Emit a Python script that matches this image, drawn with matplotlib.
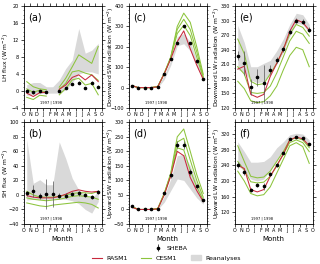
import numpy as np
import matplotlib
matplotlib.use("Agg")
import matplotlib.pyplot as plt
from matplotlib.lines import Line2D
from matplotlib.patches import Patch

nan = np.nan
month_labels = ['O', 'N', 'D', 'J', 'F', 'M', 'A', 'M', 'J', 'J', 'A', 'S', 'O']

# (a) LH flux
sheba_lh = [0.0, -0.3, 0.0, -0.2, nan, 0.0, 0.7, 1.6, 2.0, 0.7, 2.0, 1.0]
sheba_lh_err = [0.3, 0.3, 0.3, 0.3, nan, 0.3, 0.3, 0.3, 0.3, 0.3, 0.3, 0.3]
rasm_lh = [-0.5, -1.3, -0.4, -0.3, nan, 0.4, 1.4, 3.2, 3.8, 2.6, 3.8, 2.2]
cesm_lh = [[2.2, 1.0, 0.5, 0.3, nan, 0.9, 3.0, 5.7, 8.5, 7.5, 6.5, 10.5],
           [0.5, -0.3, 0.2, -0.3, nan, 0.4, 1.8, 4.5, 4.8, 4.2, 3.8, 2.5],
           [-1.5, -2.0, -1.0, -1.2, nan, -0.9, 0.6, 2.6, 3.0, 1.4, 1.8, -0.9]]
rean_lh_lo = [-1.0, -0.8, -0.6, -0.5, -0.5, -0.5, 0.3, 2.0, 4.0, 4.5, 4.5, 4.0]
rean_lh_hi = [1.5, 2.0, 2.0, 1.0, 1.0, 2.6, 5.3, 7.3, 14.7, 8.9, 9.6, 11.2]

# (b) SH flux
sheba_sh = [2, 5, -1, 1, 1, -1, -1, 1, 2, 0, -3, 4]
sheba_sh_err = [3, 8, 4, 21, 18, 3, 3, 3, 3, 3, 3, 3]
rasm_sh = [-1, -3, -4, -4, -4, -2, 1, 5, 7, 5, 4, 5]
cesm_sh = [[5, 0, -3, -3, -3, -2, 0, 2, 3, 3, 2, 5],
           [-4, -6, -7, -8, -7, -6, -4, -2, -1, -2, -3, -6],
           [-11, -13, -15, -16, -14, -13, -12, -11, -10, -11, -13, -18]]
rean_sh_lo = [-7, -6, -6, -6, -6, -6, -6, -8, -12, -20, -25, -9]
rean_sh_hi = [76, 16, 21, 14, 14, 73, 50, 23, 7, 0, -5, 5]

# (c) Downward SW
sheba_dsw = [10, 0, 0, 0, 5, 68, 140, 218, 300, 218, 128, 42]
sheba_dsw_err = [3, 8, 2, 2, 2, 5, 5, 6, 8, 6, 5, 4]
rasm_dsw = [10, 0, 0, 0, 4, 68, 140, 225, 278, 190, 110, 40]
cesm_dsw = [[10, 0, 0, 0, 5, 70, 150, 300, 365, 320, 200, 65],
            [10, 0, 0, 0, 5, 70, 148, 285, 335, 285, 175, 55],
            [10, 0, 0, 0, 5, 68, 145, 265, 305, 255, 150, 48]]
rean_dsw_lo = [5, 0, 0, 0, 0, 40, 110, 205, 215, 180, 105, 35]
rean_dsw_hi = [15, 3, 1, 1, 8, 60, 135, 250, 265, 225, 135, 48]

# (d) Upward SW
sheba_usw = [12, 0, 0, 0, 2, 55, 118, 222, 222, 130, 81, 32]
sheba_usw_err = [3, 2, 1, 1, 1, 5, 8, 12, 15, 10, 6, 4]
rasm_usw = [8, 0, 0, 0, 2, 50, 115, 200, 185, 110, 65, 27]
cesm_usw = [[10, 0, 0, 0, 3, 55, 125, 250, 277, 200, 120, 55],
            [10, 0, 0, 0, 3, 55, 122, 232, 245, 170, 100, 42],
            [10, 0, 0, 0, 3, 52, 118, 212, 205, 135, 78, 32]]
rean_usw_lo = [5, 0, 0, 0, 0, 25, 65, 105, 100, 70, 40, 18]
rean_usw_hi = [12, 2, 0, 0, 4, 45, 105, 185, 190, 150, 90, 38]

# (e) Downward LW
sheba_dlw = [228, 212, 163, 183, 171, 199, 219, 242, 277, 300, 298, 281]
sheba_dlw_err = [10, 25, 17, 18, 38, 10, 6, 6, 5, 5, 5, 5]
rasm_dlw = [200, 206, 148, 142, 148, 185, 212, 240, 278, 302, 296, 280]
cesm_dlw = [[262, 232, 175, 168, 170, 190, 212, 240, 272, 292, 286, 268],
            [205, 190, 152, 150, 152, 165, 192, 225, 258, 278, 272, 253],
            [175, 160, 135, 131, 133, 145, 165, 198, 228, 245, 240, 205]]
rean_dlw_lo = [200, 192, 178, 172, 175, 190, 210, 235, 268, 295, 292, 275]
rean_dlw_hi = [290, 255, 205, 205, 212, 218, 238, 262, 292, 315, 312, 292]

# (f) Upward LW
sheba_ulw = [240, 222, 177, 189, 186, 217, 241, 272, 308, 312, 309, 295]
sheba_ulw_err = [8, 6, 6, 5, 10, 5, 4, 4, 3, 3, 3, 3]
rasm_ulw = [240, 232, 178, 172, 178, 212, 240, 268, 305, 312, 308, 290]
cesm_ulw = [[290, 250, 212, 208, 210, 225, 250, 275, 305, 310, 305, 285],
            [250, 228, 198, 195, 197, 212, 238, 268, 298, 305, 298, 275],
            [225, 200, 168, 162, 165, 185, 220, 255, 290, 298, 288, 245]]
rean_ulw_lo = [240, 225, 205, 200, 205, 228, 252, 278, 305, 312, 308, 292]
rean_ulw_hi = [300, 275, 248, 248, 250, 262, 285, 300, 318, 322, 320, 305]

RED = '#c8283c'
GREEN = '#8cc43c'
GRAY = '#d9d9d9'

panels = [
    ('(a)', 'LH flux (W m$^{-2}$)', (-4, 20), np.arange(-4, 21, 4),
     sheba_lh, sheba_lh_err, rasm_lh, cesm_lh, rean_lh_lo, rean_lh_hi),
    ('(b)', 'SH flux (W m$^{-2}$)', (-40, 100), np.arange(-40, 101, 20),
     sheba_sh, sheba_sh_err, rasm_sh, cesm_sh, rean_sh_lo, rean_sh_hi),
    ('(c)', 'Downward SW radiation (W m$^{-2}$)', (-100, 400), np.arange(-100, 401, 100),
     sheba_dsw, sheba_dsw_err, rasm_dsw, cesm_dsw, rean_dsw_lo, rean_dsw_hi),
    ('(d)', 'Upward SW radiation (W m$^{-2}$)', (-50, 300), np.arange(-50, 301, 50),
     sheba_usw, sheba_usw_err, rasm_usw, cesm_usw, rean_usw_lo, rean_usw_hi),
    ('(e)', 'Downward LW radiation (W m$^{-2}$)', (120, 330), np.arange(120, 331, 30),
     sheba_dlw, sheba_dlw_err, rasm_dlw, cesm_dlw, rean_dlw_lo, rean_dlw_hi),
    ('(f)', 'Upward LW radiation (W m$^{-2}$)', (90, 350), np.arange(120, 321, 40),
     sheba_ulw, sheba_ulw_err, rasm_ulw, cesm_ulw, rean_ulw_lo, rean_ulw_hi),
]

W, H = 320, 264
fig = plt.figure(figsize=(W / 100, H / 100), dpi=100)

lefts = [23.5, 128.5, 234.5]
width = 78
rows = [(6, 108), (122.3, 224)]

x = np.arange(12) + 0.5
for i, p in enumerate(panels):
    lab, ylab, ylim, yt, sh, sherr, rasm, cesm, rlo, rhi = p
    col, row = i // 2, i % 2
    top, bot = rows[row]
    ax = fig.add_axes([lefts[col] / W, (H - bot) / H, width / W, (bot - top) / H])
    ax.fill_between(x, rlo, rhi, color=GRAY, lw=0, zorder=1)
    for c in cesm:
        ax.plot(x, c, color=GREEN, lw=0.75, zorder=2)
    ax.plot(x, rasm, color=RED, lw=0.75, zorder=3)
    ax.errorbar(x, sh, yerr=sherr, fmt='o', color='black', ms=1.6,
                elinewidth=0.5, ecolor='#555555', capsize=0, zorder=4)
    ax.set_xlim(0, 12)
    ax.set_ylim(*ylim)
    ax.set_xticks(np.arange(13))
    ax.set_yticks(yt)
    ax.set_xticklabels(month_labels)
    ax.tick_params(labelsize=3.5, length=2, width=0.5, pad=1.2, direction='out',
                   top=True, right=True)
    ax.minorticks_on()
    ax.xaxis.set_minor_locator(matplotlib.ticker.NullLocator())
    ax.tick_params(which='minor', length=1, width=0.4, direction='out', right=True)
    for s in ax.spines.values():
        s.set_linewidth(0.6)
    ax.set_ylabel(ylab, fontsize=4.3)
    ax.yaxis.set_label_coords(-0.165, 0.5)
    ax.text(0.06, 0.94, lab, transform=ax.transAxes, fontsize=7, va='top', ha='left')
    ax.text(4.2, ylim[0] + 0.03 * (ylim[1] - ylim[0]), '1997 | 1998', fontsize=2.6,
            ha='center', va='bottom')
    if row == 1:
        ax.set_xlabel('Month', fontsize=5, labelpad=2)

h_sheba = ax.errorbar([], [], yerr=[], fmt='o', color='black', ms=1.6,
                      elinewidth=0.5, ecolor='black', capsize=0)
fig.legend([h_sheba], ['SHEBA'], loc='center', bbox_to_anchor=(0.535, (H - 248) / H),
           frameon=False, fontsize=4.5, handlelength=1.0, handletextpad=0.8)
handles = [Line2D([], [], color=RED, lw=0.8), Line2D([], [], color=GREEN, lw=0.8),
           Patch(color=GRAY)]
fig.legend(handles, ['RASM1', 'CESM1', 'Reanalyses'], loc='center',
           bbox_to_anchor=(0.52, (H - 258) / H), ncol=3, frameon=False,
           fontsize=4.5, handlelength=1.6, handletextpad=0.7, columnspacing=2.2,
           handleheight=0.9)

fig.savefig('out.png', dpi=100)
